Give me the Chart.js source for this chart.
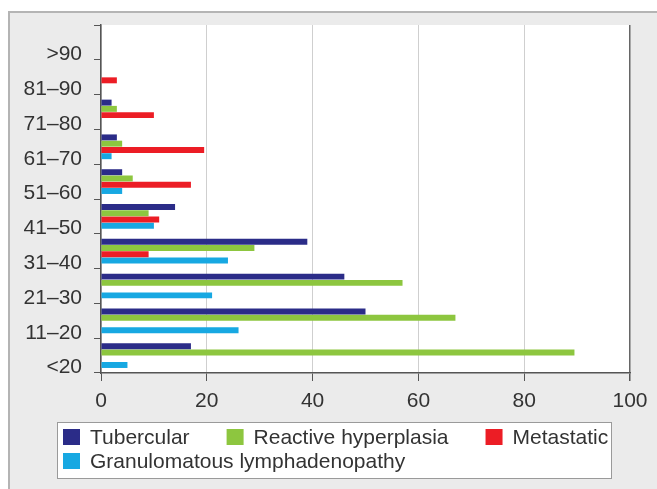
<!DOCTYPE html>
<html>
<head>
<meta charset="utf-8">
<script src="https://cdn.jsdelivr.net/npm/chart.js@4"></script>
<style>
  body { margin: 0; background: #fff; }
  #frame { position: absolute; left: 8px; top: 11px; width: 680px; height: 500px;
           background: #ebebeb; border-top: 2px solid #b4b4b4; border-left: 2px solid #b4b4b4; }
  #wrap { position: absolute; left: 0; top: 0; width: 657px; height: 489px; }
</style>
</head>
<body>
<div id="frame"></div>
<div id="wrap"><canvas id="chart1"></canvas></div>
<script>
// age groups, bottom to top
const ageGroups = ['<20', '11–20', '21–30', '31–40', '41–50', '51–60', '61–70', '71–80', '81–90', '>90'];
const tubercular = [17, 50, 46, 39, 14, 4, 3, 2, 0, 0];
const reactive = [89.5, 67, 57, 29, 9, 6, 4, 3, 0, 0];
const metastatic = [0, 0, 0, 9, 11, 17, 19.5, 10, 3, 0];
const granulomatous = [5, 26, 21, 24, 10, 4, 2, 0, 0, 0];
const xTicks = [0, 20, 40, 60, 80, 100];

Chart.defaults.font.family = "'Liberation Sans', Arial, sans-serif";
Chart.defaults.font.size = 21;
Chart.defaults.color = '#333';

// white plot area
const plotBg = {
  id: 'plotBg',
  beforeDraw(chart) {
    const a = chart.chartArea, ctx = chart.ctx;
    ctx.save();
    ctx.fillStyle = '#fff';
    ctx.fillRect(a.left, a.top, a.right - a.left, a.bottom - a.top);
    ctx.restore();
  }
};

// boxed legend, left aligned rows
const boxLegend = {
  id: 'boxLegend',
  afterDraw(chart) {
    const ctx = chart.ctx;
    ctx.save();
    ctx.fillStyle = '#fff';
    ctx.fillRect(57, 422, 554, 56);
    ctx.strokeStyle = '#9a9a9a';
    ctx.lineWidth = 1;
    ctx.strokeRect(57.5, 422.5, 554, 56);
    ctx.font = "21px 'Liberation Sans', Arial, sans-serif";
    ctx.textBaseline = 'middle';
    let x = 63, y = 437;
    chart.data.datasets.forEach(ds => {
      const w = 27 + ctx.measureText(ds.label).width;
      if (x + w > 615) { x = 63; y += 24; }
      ctx.fillStyle = ds.backgroundColor;
      ctx.fillRect(x, y - 8, 17, 16);
      ctx.fillStyle = '#333';
      ctx.fillText(ds.label, x + 27, y + 1);
      x += w + 37;
    });
    ctx.restore();
  }
};

const ctx = document.getElementById('chart1').getContext('2d');
let myChart1 = new Chart(ctx, {
    type: 'bar',
    data: {
        labels: ageGroups,
        datasets: [
            { label: 'Tubercular', data: tubercular, backgroundColor: '#2b2c88' },
            { label: 'Reactive hyperplasia', data: reactive, backgroundColor: '#8dc63f' },
            { label: 'Metastatic', data: metastatic, backgroundColor: '#ec1d25' },
            { label: 'Granulomatous lymphadenopathy', data: granulomatous, backgroundColor: '#17a8e2' }
        ]
    },
    options: {
        indexAxis: 'y',
        responsive: true,
        maintainAspectRatio: false,
        animation: false,
        categoryPercentage: 0.72,
        barPercentage: 0.95,
        layout: { padding: { left: 10, top: 25, right: 27, bottom: 0 } },
        plugins: { legend: { display: false }, tooltip: { enabled: false } },
        scales: {
            y: {
                reverse: true,
                afterFit: s => { s.width = 91; },
                border: { color: '#555', width: 1.5 },
                grid: { drawOnChartArea: false, tickLength: 7, color: '#555', offset: true },
                ticks: { padding: 12, labelOffset: 12, color: '#333' }
            },
            x: {
                min: 0,
                max: 100,
                afterFit: s => { s.height = 116; },
                afterBuildTicks: s => { s.ticks = xTicks.map(v => ({ value: v })); },
                border: { color: '#555', width: 1.5 },
                grid: {
                    color: c => (c.tick && c.tick.value === 100) ? '#666' : '#cfcfcf',
                    lineWidth: c => (c.tick && c.tick.value === 100) ? 1.5 : 1,
                    tickColor: '#555',
                    tickLength: 8
                },
                ticks: { padding: 8, color: '#333' }
            }
        }
    },
    plugins: [plotBg, boxLegend]
});
</script>
</body>
</html>
